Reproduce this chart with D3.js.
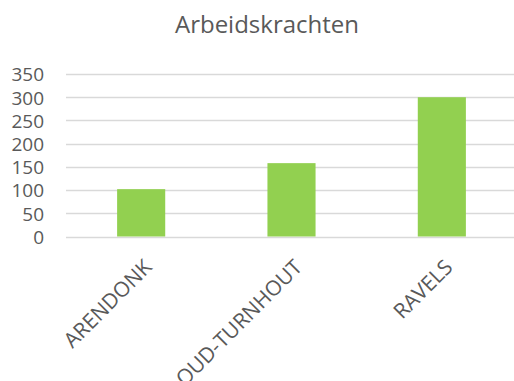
<!DOCTYPE html>
<html>
<head>
<meta charset="utf-8">
<script src="https://cdn.jsdelivr.net/npm/d3@7"></script>
<style>
  html, body { margin: 0; padding: 0; background: #fff; }
  svg { display: block; font-family: "Open Sans", sans-serif; }
</style>
</head>
<body>
<svg id="chart" width="514" height="381"></svg>
<script>
const categories = ["ARENDONK", "OUD-TURNHOUT", "RAVELS"];
const values = [102, 158, 300];
const yTicks = [0, 50, 100, 150, 200, 250, 300, 350];
const title = "Arbeidskrachten";

const svg = d3.select("#chart");
const margin = { left: 66, right: -3, top: 74, bottom: 144 };
const W = 514, H = 381;
const textColor = "#595959";
const fontFamily = "'Open Sans', sans-serif";

const x = d3.scaleBand()
  .domain(categories)
  .range([margin.left, W - margin.right])
  .paddingInner(0.68)
  .paddingOuter(0.34);

const y = d3.scaleLinear()
  .domain([0, 350])
  .range([H - margin.bottom - 0.5, margin.top]);

// horizontal gridlines
svg.append("g")
  .selectAll("line")
  .data(yTicks)
  .join("line")
  .attr("x1", margin.left)
  .attr("x2", W - margin.right)
  .attr("y1", d => Math.round(y(d)) + 0.5)
  .attr("y2", d => Math.round(y(d)) + 0.5)
  .attr("stroke", "#d9d9d9")
  .attr("stroke-width", 1.5);

// bars
svg.append("g")
  .selectAll("rect")
  .data(categories)
  .join("rect")
  .attr("x", d => x(d))
  .attr("width", x.bandwidth())
  .attr("y", (d, i) => y(values[i]))
  .attr("height", (d, i) => y(0) - y(values[i]))
  .attr("fill", "#92d050");

// y axis labels
const yAxis = d3.axisLeft(y).tickValues(yTicks).tickSize(0).tickPadding(0);
const gy = svg.append("g")
  .attr("transform", "translate(44,0)")
  .call(yAxis);
gy.select(".domain").remove();
gy.selectAll("text")
  .attr("fill", textColor)
  .attr("dy", "0.36em")
  .style("font-size", "19px")
  .style("font-family", fontFamily);

// x axis labels, rotated
const xAxis = d3.axisBottom(x).tickSize(0).tickPadding(0);
const gx = svg.append("g")
  .attr("transform", `translate(0,${y(0)})`)
  .call(xAxis);
gx.select(".domain").remove();
gx.selectAll("text")
  .attr("fill", textColor)
  .style("font-size", "21px")
  .style("font-family", fontFamily)
  .attr("text-anchor", "end")
  .attr("dy", "0")
  .attr("transform", "translate(12,32) rotate(-45)");

// title
svg.append("text")
  .attr("x", 267)
  .attr("y", 33)
  .attr("text-anchor", "middle")
  .attr("fill", textColor)
  .style("font-size", "24px")
  .style("font-family", fontFamily)
  .text(title);
</script>
</body>
</html>
